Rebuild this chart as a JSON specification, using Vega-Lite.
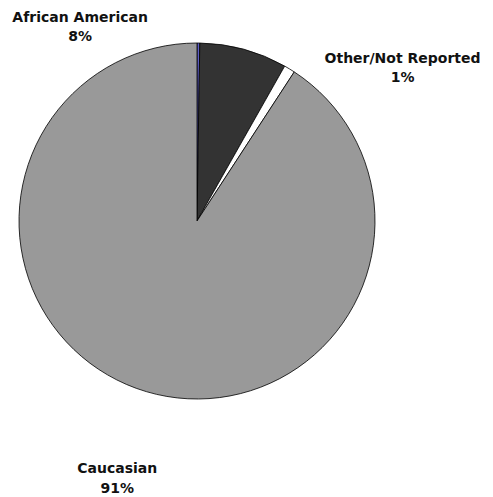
{
  "$schema": "https://vega.github.io/schema/vega-lite/v6.json",
  "width": 394,
  "height": 442,
  "autosize": "none",
  "padding": {"left": 0, "top": 0, "right": 99, "bottom": 55},
  "background": "white",
  "config": {"view": {"stroke": null}},
  "data": {
    "values": [
      {"group": "Unknown", "pct": 0.25, "ord": 0},
      {"group": "African American", "pct": 7.95, "ord": 1},
      {"group": "Other/Not Reported", "pct": 1.0, "ord": 2},
      {"group": "Caucasian", "pct": 90.8, "ord": 3}
    ]
  },
  "transform": [
    {"stack": "pct", "groupby": [], "sort": [{"field": "ord", "order": "ascending"}], "as": ["t0", "t1"]}
  ],
  "layer": [
    {
      "mark": {"type": "arc", "radius": 178, "stroke": "#000000", "strokeWidth": 0.8},
      "encoding": {
        "theta": {"field": "t0", "type": "quantitative", "scale": {"domain": [0, 100]}},
        "theta2": {"field": "t1"},
        "color": {
          "field": "group",
          "type": "nominal",
          "scale": {
            "domain": ["Unknown", "African American", "Other/Not Reported", "Caucasian"],
            "range": ["#5c5cc4", "#333333", "#ffffff", "#999999"]
          },
          "legend": null
        }
      }
    },
    {
      "transform": [{"filter": "datum.group === 'African American'"}],
      "mark": {"type": "text", "radius": 200, "dx": -120, "dy": -3, "font": "DejaVu Sans", "fontWeight": "bold", "fontSize": 14, "lineHeight": 19, "align": "center", "baseline": "middle", "lineBreak": "\n", "color": "#111111"},
      "encoding": {
        "theta": {"field": "t0", "type": "quantitative", "scale": {"domain": [0, 100]}},
        "text": {"value": "African American\n8%"}
      }
    },
    {
      "transform": [{"filter": "datum.group === 'Other/Not Reported'"}],
      "mark": {"type": "text", "radius": 200, "dx": 107, "dy": 12, "font": "DejaVu Sans", "fontWeight": "bold", "fontSize": 14, "lineHeight": 19, "align": "center", "baseline": "middle", "lineBreak": "\n", "color": "#111111"},
      "encoding": {
        "theta": {"field": "t0", "type": "quantitative", "scale": {"domain": [0, 100]}},
        "text": {"value": "Other/Not Reported\n1%"}
      }
    },
    {
      "transform": [{"filter": "datum.group === 'Caucasian'"}],
      "mark": {"type": "text", "radius": 200, "dx": -189, "dy": 416, "font": "DejaVu Sans", "fontWeight": "bold", "fontSize": 14, "lineHeight": 20, "align": "center", "baseline": "middle", "lineBreak": "\n", "color": "#111111"},
      "encoding": {
        "theta": {"field": "t0", "type": "quantitative", "scale": {"domain": [0, 100]}},
        "text": {"value": "Caucasian\n91%"}
      }
    }
  ]
}
